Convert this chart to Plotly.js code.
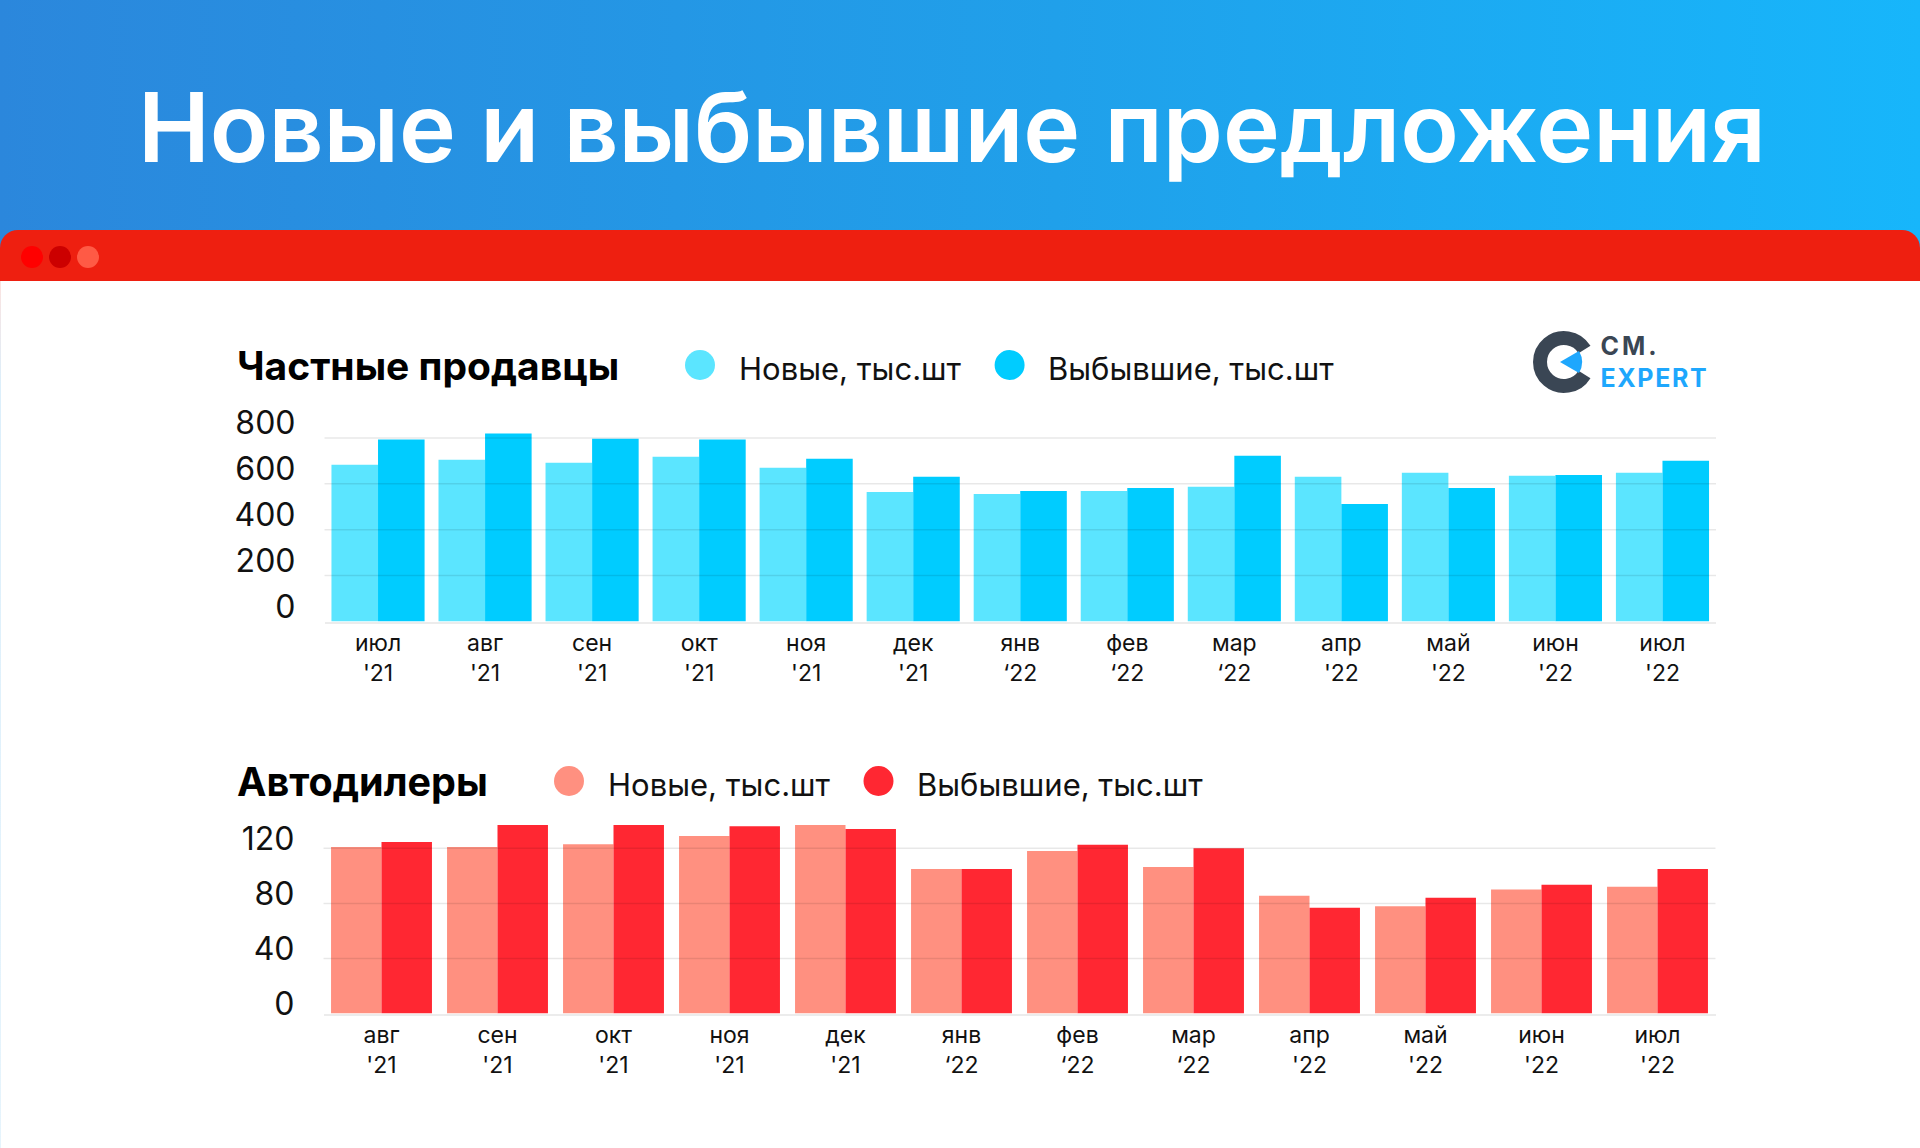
<!DOCTYPE html>
<html lang="ru">
<head>
<meta charset="utf-8">
<title>Новые и выбывшие предложения</title>
<script src="https://cdn.plot.ly/plotly-3.0.1.min.js"></script>
<style>
  html, body { margin: 0; padding: 0; background: #fff; }
  #page { position: relative; width: 1920px; height: 1148px; overflow: hidden; background: #fff; }
  #banner { position: absolute; left: 0; top: 0; width: 1920px; height: 250px; background: linear-gradient(90deg, #2b87dc 0%, #20a0ea 55%, #17b6fb 100%); }
  #bar { position: absolute; left: 0; top: 230px; width: 1920px; height: 51px; background: #ee1f10; border-radius: 18px 18px 0 0; }
  #edge { position: absolute; left: 0; top: 281px; width: 1px; height: 867px; background: linear-gradient(180deg, #fbe3e0 0%, #dceffb 12%, #e6f4fc 100%); }
  .dot { position: absolute; top: 246px; width: 22px; height: 22px; border-radius: 50%; }
  #logo { position: absolute; left: 1521px; top: 325px; }
  #chart { position: absolute; left: 0; top: 0; width: 1920px; height: 1148px; }
</style>
</head>
<body>
<div id="page">
  <div id="banner"></div>
  <div id="bar"></div>
  <div id="edge"></div>
  <div class="dot" style="left:21px;background:#ff0000"></div>
  <div class="dot" style="left:49px;background:#cc0000"></div>
  <div class="dot" style="left:77px;background:#ff5a45"></div>
  <div id="chart"></div>
  <svg id="logo" width="194" height="75" viewBox="1525 325 194 75">
    <path d="M1588.5 349.5 A24 24 0 1 0 1588.5 374.5" fill="none" stroke="#3a4654" stroke-width="14"/>
    <path d="M1564 362 L1583 351 A22 22 0 0 1 1583 373 Z" fill="#1ea7fd"/>
    <text x="1604.5" y="355" font-family="Inter" font-weight="700" font-size="25" letter-spacing="3" fill="#3a4654">CM.</text>
    <text x="1604.5" y="387" font-family="Inter" font-weight="700" font-size="25" letter-spacing="1.6" fill="#1ea7fd">EXPERT</text>
  </svg>
</div>

<script>
// частные продавцы
const months1 = ['июл', 'авг', 'сен', 'окт', 'ноя', 'дек', 'янв', 'фев', 'мар', 'апр', 'май', 'июн', 'июл'];
const years1 = ["'21", "'21", "'21", "'21", "'21", "'21", '‘22', '‘22', '‘22', "'22", "'22", "'22", "'22"];
const newPrivate = [683, 705, 692, 718, 670, 565, 556, 569, 587, 631, 648, 635, 648];
const gonePrivate = [793, 819, 797, 793, 709, 631, 569, 582, 723, 512, 582, 639, 701];
const ticks1 = [0, 200, 400, 600, 800];

// автодилеры
const months2 = ['авг', 'сен', 'окт', 'ноя', 'дек', 'янв', 'фев', 'мар', 'апр', 'май', 'июн', 'июл'];
const years2 = ["'21", "'21", "'21", "'21", "'21", '‘22', '‘22', '‘22', "'22", "'22", "'22", "'22"];
const newDealers = [121, 121, 123, 129, 137, 105, 118, 106.5, 85.5, 78, 90, 92];
const goneDealers = [124.6, 137, 137, 136, 134, 105, 122.5, 120, 76.8, 84, 93.5, 105];
const ticks2 = [0, 40, 80, 120];

const W = 1920, H = 1148;
const FONT = 'Inter, "Noto Sans", sans-serif';
const px = x => x / W;
const py = y => 1 - y / H;

const labels1 = months1.map((m, i) => m + '<br>' + years1[i]);
const labels2 = months2.map((m, i) => m + '<br>' + years2[i]);

const bar = (x, y, color, name, xa, ya) => ({
  type: 'bar', x, y, name, xaxis: xa, yaxis: ya,
  marker: { color, line: { width: 0 } },
  hovertemplate: '%{y}<extra>' + name + '</extra>'
});

const traces = [
  bar(labels1, newPrivate, '#5be5ff', 'Новые, тыс.шт', 'x', 'y'),
  bar(labels1, gonePrivate, '#00ccff', 'Выбывшие, тыс.шт', 'x', 'y'),
  bar(labels2, newDealers, '#ff9080', 'Новые, тыс.шт', 'x2', 'y2'),
  bar(labels2, goneDealers, '#ff2732', 'Выбывшие, тыс.шт', 'x2', 'y2')
];

// линии сетки идут поверх столбцов и просвечивают
const gridShapes = (ticks, xa, ya) => ticks.filter(t => t > 0).map(t => ({
  type: 'line', layer: 'above', xref: xa + ' domain', yref: ya,
  x0: 0, x1: 1, y0: t, y1: t,
  line: { color: 'rgba(0,0,0,0.09)', width: 1.5 }
}));

const dot = (cx, cy, color) => ({
  type: 'circle', xref: 'paper', yref: 'paper', layer: 'above',
  x0: px(cx - 15), x1: px(cx + 15), y0: py(cy + 15), y1: py(cy - 15),
  fillcolor: color, line: { width: 0 }
});

const note = (x, y, text, size, weight) => ({
  xref: 'paper', yref: 'paper', x: px(x), y: py(y), xanchor: 'left', yanchor: 'middle',
  text, showarrow: false, font: { family: FONT, size, color: weight > 500 ? '#000' : '#111', weight }
});

const yAxis = (ticks, range, y0, y1, shift, anchor) => ({
  domain: [py(y0), py(y1)], range, anchor, tickvals: ticks, ticktext: ticks.map(String),
  showgrid: false, zeroline: false, ticks: '', ticklabelshift: shift, ticklabelstandoff: 28,
  tickfont: { family: FONT, size: 32, color: '#111' }
});

const xAxis = (n, left, right, anchor) => ({
  domain: [px(left), px(right)], range: [-0.5, n - 0.5], anchor, type: 'category',
  showline: true, linecolor: '#ececec', linewidth: 2, ticks: '', ticklabelstandoff: 0,
  tickfont: { family: FONT, size: 23, color: '#111' }
});

const layout = {
  width: W, height: H,
  margin: { l: 0, r: 0, t: 0, b: 0 },
  paper_bgcolor: 'rgba(0,0,0,0)',
  plot_bgcolor: 'rgba(0,0,0,0)',
  showlegend: false,
  barmode: 'group', bargap: 0.13, bargroupgap: 0,
  title: {
    text: 'Новые и выбывшие предложения',
    x: 952 / W, xanchor: 'center', y: py(128), yanchor: 'middle',
    font: { family: FONT, size: 96.3, color: '#fff', weight: 600 }
  },
  xaxis: xAxis(13, 324.5, 1716, 'y'),
  yaxis: yAxis(ticks1, [0, 850], 621.5, 426.5, -15, 'x'),
  xaxis2: xAxis(12, 323.5, 1715.5, 'y2'),
  yaxis2: yAxis(ticks2, [0, 145], 1013.5, 813.9, -10, 'x2'),
  shapes: [
    ...gridShapes(ticks1, 'x', 'y'),
    ...gridShapes(ticks2, 'x2', 'y2'),
    dot(700, 365, '#5be5ff'),
    dot(1009.6, 365, '#00ccff'),
    dot(569, 781, '#ff9080'),
    dot(878.5, 781, '#ff2732')
  ],
  annotations: [
    note(235, 366, 'Частные продавцы', 39, 700),
    note(736.5, 369, 'Новые, тыс.шт', 31, 400),
    note(1046, 369, 'Выбывшие, тыс.шт', 31, 400),
    note(235, 782, 'Автодилеры', 39.5, 700),
    note(606, 784, 'Новые, тыс.шт', 31, 400),
    note(915, 784, 'Выбывшие, тыс.шт', 31, 400)
  ]
};

Plotly.newPlot('chart', traces, layout, { displayModeBar: false });
</script>
</body>
</html>
